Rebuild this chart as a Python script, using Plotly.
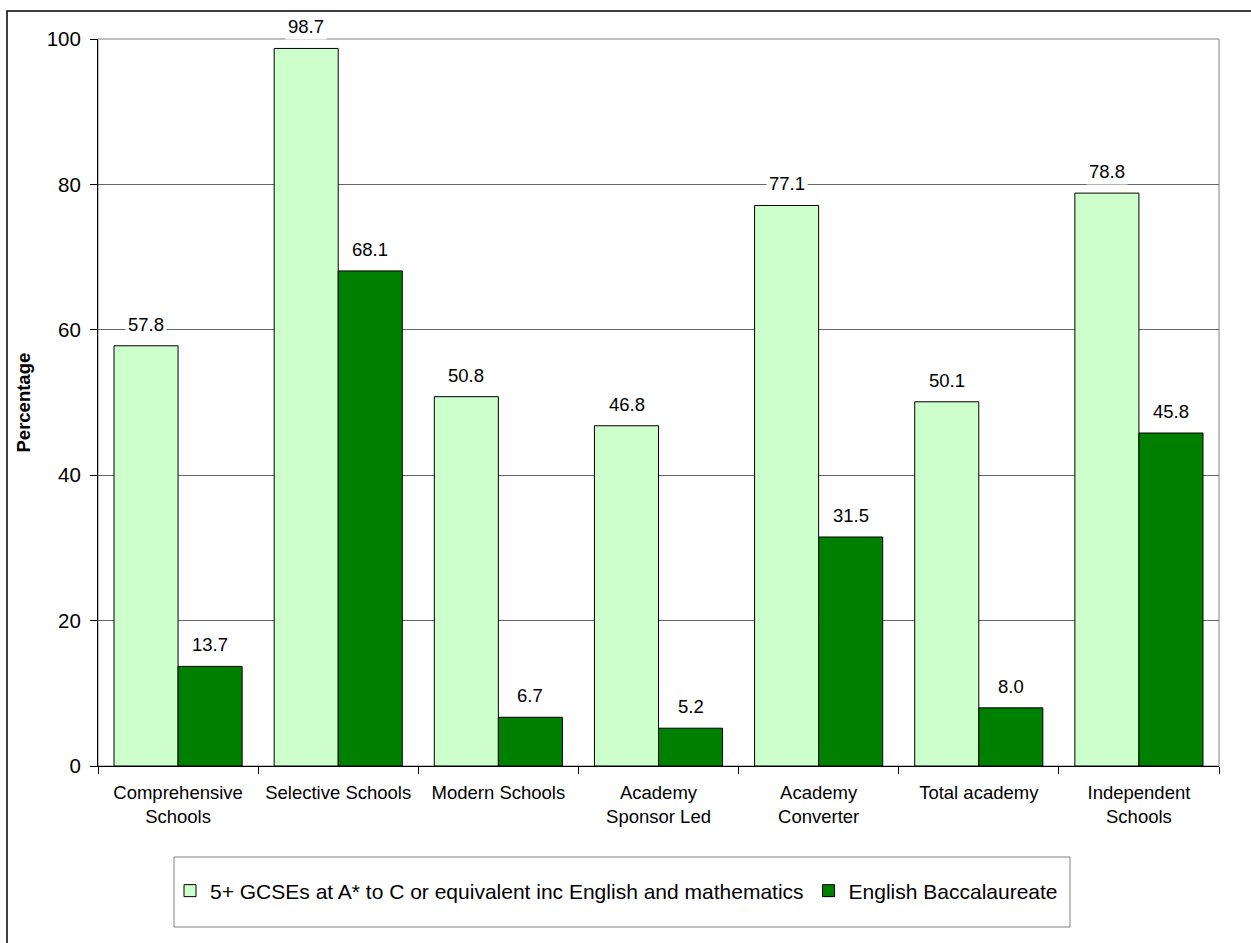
import plotly.graph_objects as go

categories = ["Comprehensive<br>Schools", "Selective Schools", "Modern Schools",
              "Academy<br>Sponsor Led", "Academy<br>Converter", "Total academy",
              "Independent<br>Schools"]
gcse = [57.8, 98.7, 50.8, 46.8, 77.1, 50.1, 78.8]
ebacc = [13.7, 68.1, 6.7, 5.2, 31.5, 8.0, 45.8]
series_names = ["5+ GCSEs at A* to C or equivalent inc English and mathematics",
                "English Baccalaureate"]
colors = ["#CCFFCC", "#008000"]

FONT = "Liberation Sans, Arial, sans-serif"

fig = go.Figure()
for name, vals, col in zip(series_names, [gcse, ebacc], colors):
    fig.add_trace(go.Bar(x=categories, y=vals, name=name,
                         marker=dict(color=col, line=dict(color="black", width=1))))

annotations = []
for vals, shift in [(gcse, -32), (ebacc, 32)]:
    for c, v in zip(categories, vals):
        annotations.append(dict(x=c, y=v, xref="x", yref="y", text=f"{v:.1f}",
                                showarrow=False, xshift=shift, yanchor="bottom",
                                yshift=8, bgcolor="white", borderpad=2,
                                font=dict(size=18.5, color="black", family=FONT)))

W, H = 1251, 943
L, R, T, B = 98, 1219, 39, 766
pw, ph = R - L, B - T
def px(x): return (x - L) / pw
def py(y): return (B - y) / ph

annotations.append(dict(x=px(23), y=0.5, xref="paper", yref="paper",
                        xanchor="center", yanchor="middle",
                        text="<b>Percentage</b>", textangle=-90, showarrow=False,
                        font=dict(size=18.5, color="black", family=FONT)))

shapes = [
    dict(type="rect", xref="paper", yref="paper", x0=0, x1=1, y0=0, y1=1,
         line=dict(color="#808080", width=1), layer="below"),
    dict(type="rect", xref="paper", yref="paper", x0=px(7), x1=px(1262), y0=py(960), y1=py(11),
         line=dict(color="black", width=1.5)),
    dict(type="rect", xref="paper", yref="paper", x0=px(174), x1=px(1070), y0=py(927), y1=py(857),
         line=dict(color="#808080", width=1)),
]

fig.update_layout(
    width=W, height=H,
    margin=dict(l=L, r=W - R, t=T, b=H - B, autoexpand=False),
    plot_bgcolor="white", paper_bgcolor="white",
    barmode="group", bargap=0.2, bargroupgap=0,
    font=dict(family=FONT, size=18.5, color="black"),
    showlegend=True,
    legend=dict(orientation="h", x=px(170), y=py(891), xanchor="left", yanchor="middle",
                font=dict(size=21, family=FONT), bgcolor="rgba(0,0,0,0)",
                borderwidth=0, traceorder="normal", itemwidth=30),
    annotations=annotations,
    shapes=shapes,
    yaxis=dict(range=[0, 100], dtick=20, showgrid=True, gridcolor="#666666", gridwidth=1,
               showline=True, linecolor="black", linewidth=1, ticks="outside",
               ticklen=7, tickcolor="black", tickfont=dict(size=20.5),
               ticklabelstandoff=5, zeroline=False),
    xaxis=dict(showline=True, linecolor="black", linewidth=1, ticks="outside",
               tickson="boundaries", ticklen=7, tickcolor="black",
               tickfont=dict(size=18.5), ticklabelstandoff=10, showgrid=False),
)

fig.write_html("out.html", config={"displayModeBar": False},
               post_script="document.body.style.margin='0';")
